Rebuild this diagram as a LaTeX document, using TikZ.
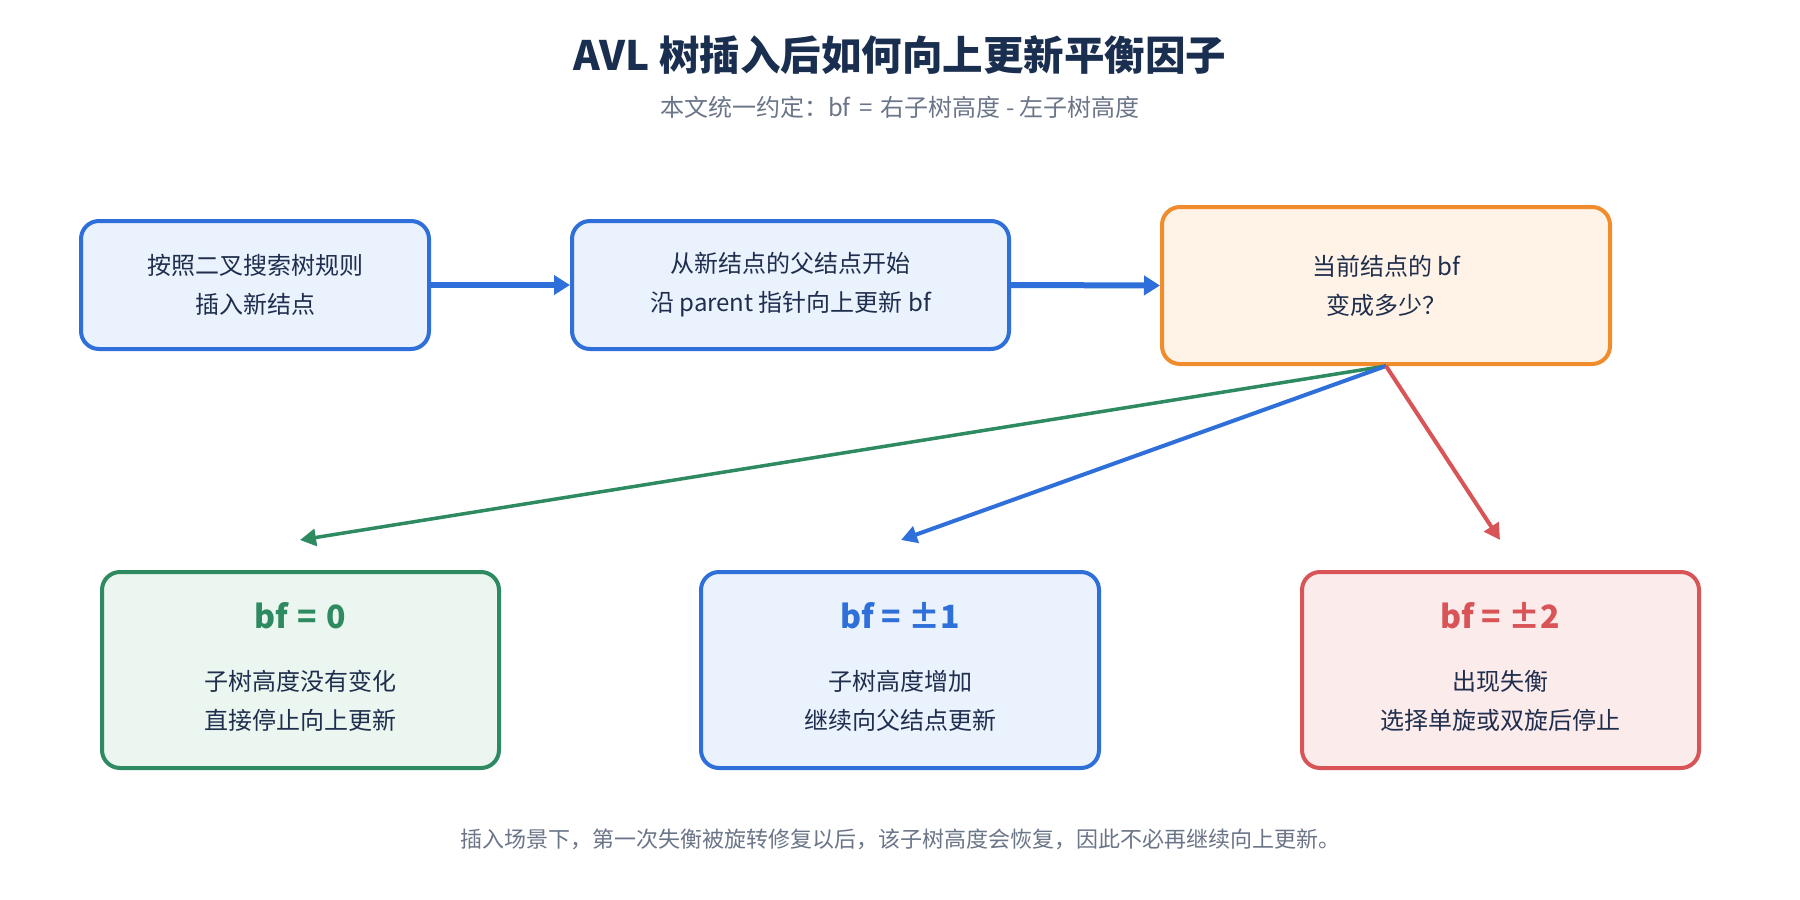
\documentclass[tikz,border=0pt]{standalone}
\usepackage{fontspec}
\setmainfont{Noto Sans CJK SC}
\usetikzlibrary{arrows.meta}
\definecolor{cblue}{HTML}{2E6FD9}
\definecolor{fblue}{HTML}{EAF2FE}
\definecolor{corange}{HTML}{F08C2B}
\definecolor{forange}{HTML}{FFF3E7}
\definecolor{cgreen}{HTML}{2E8A60}
\definecolor{fgreen}{HTML}{EAF6EF}
\definecolor{cred}{HTML}{D95457}
\definecolor{fred}{HTML}{FCEBEB}
\definecolor{txt}{HTML}{1F2E4D}
\definecolor{ttl}{HTML}{1A2E50}
\definecolor{gry}{HTML}{6B7588}
\begin{document}
\begin{tikzpicture}[x=1pt,y=-1pt,
  box/.style={draw, rounded corners=18pt, line width=4pt, align=center,
    font=\fontsize{24}{39}\selectfont, text=txt, inner sep=0pt},
  bluebox/.style={box, draw=cblue, fill=fblue},
  orangebox/.style={box, draw=corange, fill=forange},
  greenbox/.style={box, draw=cgreen, fill=fgreen},
  redbox/.style={box, draw=cred, fill=fred},
  btitle/.style={font=\fontsize{32}{38}\selectfont\bfseries, inner sep=0pt},
  blines/.style={font=\fontsize{24}{39}\selectfont, text=txt, align=center, inner sep=0pt},
  flow/.style={line width=6pt, draw=cblue, -{Triangle[length=16pt,width=19pt]}},
  branch/.style={line width=4pt, -{Triangle[length=16pt,width=17pt]}}
]
\useasboundingbox (0,0) rectangle (1800,900);
\fill[white] (0,0) rectangle (1800,900);

\node[font=\fontsize{40.5}{48}\selectfont\bfseries, text=ttl, inner sep=0pt] (title) at (900,55) {AVL 树插入后如何向上更新平衡因子};
\node[font=\fontsize{24}{30}\selectfont, text=gry, inner sep=0pt] (sub) at (900,107) {本文统一约定：bf\hspace{3pt} = \hspace{3pt}右子树高度 - 左子树高度};

\node[bluebox, minimum width=348pt, minimum height=128pt] (b1) at (255,285) {按照二叉搜索树规则\\插入新结点};
\node[bluebox, minimum width=437pt, minimum height=128pt] (b2) at (790.5,285) {从新结点的父结点开始\\沿 parent 指针向上更新 bf};
\node[orangebox, minimum width=448pt, minimum height=157pt] (b3) at (1386,285.5) {当前结点的 bf\\变成多少？};

\node[greenbox, minimum width=397pt, minimum height=196pt] (ca) at (300.5,670) {};
\node[bluebox, minimum width=398pt, minimum height=196pt] (cb) at (900,670) {};
\node[redbox, minimum width=397pt, minimum height=196pt] (cc) at (1500.5,670) {};

\node[btitle, text=cgreen] (ta) at (300.5,616) {bf\hspace{2pt} = \hspace{2pt}0};
\node[btitle, text=cblue] (tb) at (900,616) {bf = ±1};
\node[btitle, text=cred] (tc) at (1500.5,616) {bf = ±2};

\node[blines] (la) at (300.5,701) {子树高度没有变化\\直接停止向上更新};
\node[blines] (lb) at (900,701) {子树高度增加\\继续向父结点更新};
\node[blines] (lc) at (1500.5,701) {出现失衡\\选择单旋或双旋后停止};

\node[font=\fontsize{22}{28}\selectfont, text=gry, inner sep=0pt] (foot) at (900,839) {插入场景下，第一次失衡被旋转修复以后，该子树高度会恢复，因此不必再继续向上更新。};

\draw[flow] (b1.east) -- (b2.west);
\draw[flow] (b2.east) -- (b3.west);

\coordinate (ea) at (300,540);
\coordinate (eb) at (901,540);
\coordinate (ec) at (1500,540);
\draw[branch, line width=3.5pt, draw=cgreen, fill=cgreen] (b3.south) -- (ea);
\draw[branch, draw=cblue, fill=cblue] (b3.south) -- (eb);
\draw[branch, draw=cred, fill=cred] (b3.south) -- (ec);
\end{tikzpicture}
\end{document}
